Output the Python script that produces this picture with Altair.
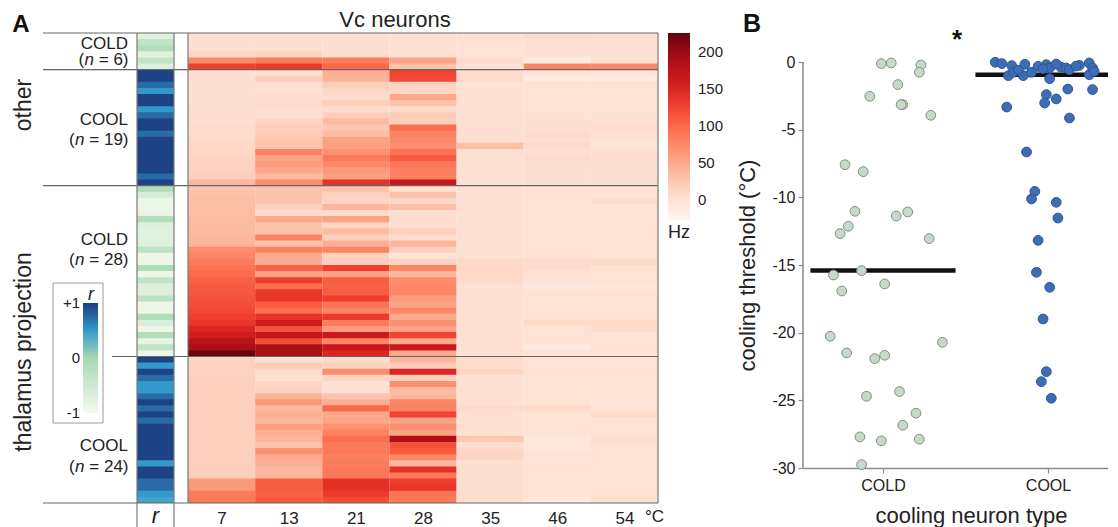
import json
import altair as alt
import pandas as pd

# ---------------- data ----------------
temps = [7, 13, 21, 28, 35, 46, 54]
group_types = ["COLD", "COOL", "COLD", "COOL"]
group_sizes = [6, 19, 28, 24]
regions = ["other", "thalamus projection"]
r_legend_values = [1, 0, -1]

# correlation r of each neuron (rows, top to bottom)
r_other_cold = [-0.75, -0.35, -0.15, -0.75, -0.35, -0.7]
r_other_cool = [0.97, 0.97, 0.75, 0.5, 0.97, 0.97, 0.5, 0.75, 0.97, 0.97, 0.75,
                0.97, 0.97, 0.97, 0.97, 0.97, 0.97, 0.75, 0.97]
r_thal_cold = [-0.1, -0.6, -0.9, -0.9, -0.85, -0.15, -0.7, -0.75, -0.75, -0.7,
               -0.3, -0.9, -0.9, -0.1, -0.9, -0.35, -0.7, -0.7, -0.3, -0.9,
               -0.9, -0.15, -0.65, -0.9, -0.15, -0.85, -0.35, -0.9]
r_thal_cool = [0.97, 0.5, 0.97, 0.75, 0.5, 0.5, 0.75, 0.97, 0.75, 0.97, 0.75, 0.97,
               0.97, 0.97, 0.97, 0.97, 0.97, 0.5, 0.97, 0.97, 0.75, 0.75, 0.5, 0.42]

# firing rate (Hz), one list per temperature column, rows top to bottom
hz_other_cold = [
    [4, 4, 5, 12, 75, 128],
    [4, 4, 5, 14, 85, 132],
    [4, 4, 4, 6, 85, 100],
    [3, 3, 3, 3, 55, 30],
    [2, 2, 2, 2, 8, 4],
    [8, 3, 3, 3, -14, 78],
    [7, 3, 3, 3, 2, 76],
]
hz_other_cool = [
    [4, 4, 4, 4, 4, 4, 6, 6, 6, 8, 8, 10, 12, 12, 14, 16, 16, 20, 38],
    [4, 20, 6, 4, 8, 8, 6, 6, 14, 20, 22, 26, 28, 80, 55, 58, 50, 36, 72],
    [45, 42, 20, 12, 8, 20, 8, 20, 36, 26, 33, 55, 58, 68, 85, 75, 62, 58, 138],
    [125, 122, 16, 12, 50, 28, 8, 22, 18, 95, 78, 75, 70, 92, 110, 88, 82, 82, 165],
    [8, 8, 3, 3, 3, 3, 3, 3, 3, 5, 5, 5, 32, 5, 3, 3, 3, 3, 3],
    [-2, -10, 2, 2, 2, 2, 2, 2, 4, 5, 8, 4, 8, 5, 8, 4, 4, 4, 4],
    [0, -10, 2, 2, 2, 2, 2, 2, 4, 8, 5, 0, -3, 4, 5, 4, 4, 4, 4],
]
hz_thal_cold = [
    [28, 30, 32, 33, 34, 35, 36, 37, 38, 40, 72, 78, 85, 92, 98, 105, 110, 112,
     115, 118, 122, 128, 135, 150, 158, 178, 190, 225],
    [28, 28, 28, 18, 8, 50, 28, 30, 80, 30, 82, 50, 45, 105, 55, 130, 95, 135,
     135, 110, 95, 138, 160, 115, 168, 118, 190, 190],
    [30, 16, 14, 40, 10, 55, 14, 35, 18, 45, 78, 16, 18, 128, 55, 108, 105, 108,
     130, 92, 78, 132, 85, 60, 162, 78, 165, 150],
    [5, 30, 14, 32, 6, 8, 6, 18, 8, 40, 18, 2, 16, 78, 38, 72, 75, 78,
     60, 55, 75, 50, 70, 55, 125, 50, 165, 48],
    [3, 3, 3, 3, 3, 3, 3, 3, 3, 3, 3, 3, 10, 12, 10, 10, 3, 3,
     3, 3, 3, 3, 3, 3, 3, 3, 3, 3],
    [2, 2, 2, 2, 2, 2, 2, 2, 2, 2, 2, 2, 8, 8, 2, 2, -8, 2,
     2, 2, 2, 2, 10, 2, 2, 2, -10, 2],
    [2, 2, 8, 2, 2, 2, 2, 2, 2, 2, 2, 2, 10, 2, 2, 2, -5, 2,
     2, 2, 2, 2, 10, 10, 2, 2, 2, 2],
]
hz_thal_cool = [
    [16, 16, 16, 18, 18, 18, 18, 18, 18, 18, 18, 18, 18, 18, 18, 18, 18, 18, 18, 18, 62, 62, 85, 88],
    [4, 22, 8, 4, 14, 16, 42, 62, 38, 45, 38, 58, 45, 40, 28, 68, 50, 45, 38, 40, 108, 108, 105, 110],
    [10, 16, 72, 14, 3, 3, 28, 45, 100, 50, 52, 68, 80, 95, 88, 88, 82, 85, 88, 88, 140, 140, 132, 120],
    [40, 22, 150, 20, 70, 35, 40, 78, 80, 125, 55, 70, 55, 185, 115, 110, 75, 38, 140, 88, 130, 135, 90, 88],
    [8, 8, 14, 3, 3, 3, 3, 3, 8, 3, 3, 3, 3, 25, 6, 12, 14, 4, 4, 4, 4, 4, 6, 6],
    [2, 2, 2, 2, 2, 2, 2, 2, 10, 2, 2, 2, 2, -8, -5, -5, 2, 2, 2, 2, 2, 2, 2, -10],
    [2, 2, 2, 2, 2, 2, 2, 2, 2, 10, 2, 2, 2, 6, 2, 2, 2, 2, 2, 2, 2, 2, 2, 2],
]

# panel B: cooling thresholds (deg C) and strip-plot jitter (fraction of category spacing)
cooling_types = ["COLD", "COOL"]
cold_threshold = [-0.12, -0.07, -0.22, -0.76, -1.67, -2.54, -3.15, -3.15, -3.94, -7.59,
                  -8.1, -11.03, -11.08, -11.38, -12.14, -12.68, -13.05, -15.74, -15.42,
                  -16.92, -16.4, -20.27, -21.5, -21.92, -21.67, -20.71, -24.7, -24.35,
                  -25.95, -26.84, -27.7, -27.99, -27.87, -29.75]
cold_jitter = [-0.01, 0.05, 0.23, 0.22, 0.09, -0.08, 0.12, 0.11, 0.29, -0.23, -0.12, -0.17,
               0.15, 0.08, -0.21, -0.26, 0.28, -0.30, -0.13, -0.25, 0.01, -0.32, -0.22,
               -0.05, 0.01, 0.36, -0.10, 0.10, 0.20, 0.12, -0.14, -0.01, 0.22, -0.13]
cool_threshold = [-0.02, -0.12, -0.27, -0.17, -0.32, -0.2, -0.44, -0.39, -0.44, -0.57,
                  -0.25, -0.07, -0.44, -1.01, -0.76, -1.01, -0.76, -1.23, -0.94, -0.69,
                  -2.0, -2.04, -2.41, -3.03, -2.73, -3.33, -4.14, -6.65, -9.56, -10.12,
                  -10.37, -11.53, -13.18, -15.54, -16.65, -18.99, -22.88, -23.62, -24.85,
                  -0.5, -0.3, -0.6, -0.15]
cool_jitter = [-0.32, -0.28, -0.22, -0.14, -0.06, -0.01, 0.01, 0.08, 0.11, 0.13, 0.19, 0.25,
               0.27, -0.24, -0.21, -0.15, -0.10, 0.01, 0.25, 0.28, 0.12, 0.27, -0.01, -0.02,
               0.05, -0.25, 0.13, -0.13, -0.08, -0.10, 0.05, 0.06, -0.06, -0.07, 0.01, -0.03,
               -0.01, -0.04, 0.02, -0.03, 0.17, -0.18, 0.05]
type_means = [-15.4, -0.95]

# colour ramps
hz_range = ["#fff5f0", "#fee0d2", "#fcbba1", "#fc9272", "#fb6a4a",
            "#ef3b2c", "#cb181d", "#a50f15", "#67000d"]
hz_limits = [-27, 225]
r_stops = [-1, 0, 0.5, 1]
r_range = ["#f4f9ef", "#a6d9b3", "#3399cc", "#1c3c80"]

# ---------------- layout (page pixels of the reference) ----------------
A_LEFT, A_TOP, HEAT_LEFT = 12, 33, 188
A_H = 470
UNIT = A_H / 7.0          # px per temperature column
X_MIN = -(HEAT_LEFT - A_LEFT) / UNIT
A_W = round((7 - X_MIN) * UNIT)
N_ROWS = sum(group_sizes)
ROW = A_H / N_ROWS
OVERLAP = 0.12            # rows overlap slightly to avoid anti-alias seams


def ax(px):
    return (px - HEAT_LEFT) / UNIT


def ay(py):
    return (py - A_TOP) / ROW


B_LEFT, B_RIGHT, B_BOTTOM = 803, 1108, 468
B_W = B_RIGHT - B_LEFT
B_H = B_BOTTOM - A_TOP
CAT = 165.0
COLD_X = 883
ZERO_Y = 62
PPU = (B_BOTTOM - ZERO_Y) / 30.0


def bx(px):
    return (px - COLD_X) / CAT


def by(py):
    return (ZERO_Y - py) / PPU


FONT = "Liberation Sans"
TXT = "#222222"
LINE = "#666666"
GREY = "#8a8a8a"

# r legend gradient placement (page px)
RG_X, RG_TOP, RG_LEN = 83, 303, 110

# ---------------- panel A ----------------
heat_rows, r_rows = [], []
row = 0
for cols, rvals in zip([hz_other_cold, hz_other_cool, hz_thal_cold, hz_thal_cool],
                       [r_other_cold, r_other_cool, r_thal_cold, r_thal_cool]):
    for i, rv in enumerate(rvals):
        y1 = row + 1 + (OVERLAP if row < N_ROWS - 1 else 0)
        for c, col in enumerate(cols):
            heat_rows.append({"x0": c, "x1": c + 1, "y0": row, "y1": y1,
                              "hz": col[i], "temp": temps[c]})
        r_rows.append({"x0": ax(137), "x1": ax(174), "y0": row, "y1": y1, "r": rv})
        row += 1
heat_df = pd.DataFrame(heat_rows)
r_df = pd.DataFrame(r_rows)

xA = alt.Scale(domain=[X_MIN, 7], nice=False, zero=False)
yA = alt.Scale(domain=[0, N_ROWS], reverse=True, nice=False, zero=False)
axA_x = alt.Axis(values=[i + 0.5 for i in range(len(temps))],
                 labelExpr=f"{temps}[floor(datum.value)]",
                 domain=False, ticks=False, grid=False, title=None,
                 labelFontSize=17, labelPadding=7, labelColor=TXT, labelFlush=False)


def XA(f):
    return alt.X(f, scale=xA, axis=axA_x)


def YA(f):
    return alt.Y(f, scale=yA, axis=None)


n_hz = len(hz_range)
hz_domain = [hz_limits[0] + k * (hz_limits[1] - hz_limits[0]) / (n_hz - 1) for k in range(n_hz)]
hz_scale = alt.Scale(domain=hz_domain, range=hz_range, interpolate="rgb")
r_scale = alt.Scale(domain=r_stops, range=r_range, interpolate="rgb")

heat = alt.Chart(heat_df).mark_rect().encode(
    x=XA("x0:Q"), x2="x1:Q", y=YA("y0:Q"), y2="y1:Q",
    color=alt.Color("hz:Q", scale=hz_scale,
                    legend=alt.Legend(title="Hz", orient="right", offset=10,
                                      direction="vertical", gradientLength=187,
                                      gradientThickness=22, values=[0, 50, 100, 150, 200],
                                      labelFontSize=15, labelOffset=8, labelColor=TXT,
                                      titleOrient="bottom", titleFontSize=18,
                                      titleFontWeight="normal", titleColor=TXT,
                                      titlePadding=4, gradientStrokeWidth=0)),
)

# legend box (annotation)
box_df = pd.DataFrame([{"x0": ax(53), "x1": ax(103), "y0": ay(283), "y1": ay(423)}])
box = alt.Chart(box_df).mark_rect(fill="white", stroke="#9a9a9a", strokeWidth=1).encode(
    x=XA("x0:Q"), x2="x1:Q", y=YA("y0:Q"), y2="y1:Q")

rcol = alt.Chart(r_df).mark_rect().encode(
    x=XA("x0:Q"), x2="x1:Q", y=YA("y0:Q"), y2="y1:Q",
    color=alt.Color("r:Q", scale=r_scale,
                    legend=alt.Legend(title=None, orient="none",
                                      legendX=RG_X - A_LEFT, legendY=RG_TOP - A_TOP,
                                      direction="vertical", gradientLength=RG_LEN,
                                      gradientThickness=15, values=[-1, 0, 1],
                                      labelOpacity=0, labelFontSize=10, padding=0,
                                      gradientStrokeWidth=0)),
)

# r legend labels drawn left of the gradient, title above
rl_df = pd.DataFrame([{"x": ax(RG_X - 3), "y": ay(RG_TOP + (1 - v) / 2 * RG_LEN),
                       "text": "+1" if v > 0 else str(v)} for v in r_legend_values])
r_labels = alt.Chart(rl_df).mark_text(align="right", baseline="middle", fontSize=15,
                                      color=TXT).encode(
    x=XA("x:Q"), y=YA("y:Q"), text="text:N")
rt_df = pd.DataFrame([{"x": ax(RG_X + 8), "y": ay(RG_TOP - 3), "text": "r"}])
r_title = alt.Chart(rt_df).mark_text(align="center", baseline="alphabetic", fontSize=18,
                                     fontStyle="italic", color=TXT).encode(
    x=XA("x:Q"), y=YA("y:Q"), text="text:N")

# separator lines between groups
bounds_rows = [0]
for n in group_sizes:
    bounds_rows.append(bounds_rows[-1] + n)
sep_df = pd.DataFrame([{"x0": ax(112) if b == bounds_rows[3] else ax(43), "x1": 7, "y": b}
                       for b in bounds_rows])
seps = alt.Chart(sep_df).mark_rule(color=LINE, strokeWidth=1.2).encode(
    x=XA("x0:Q"), x2="x1:Q", y=YA("y:Q"))

vb_df = pd.DataFrame([
    {"x": 0, "y0": 0, "y1": N_ROWS},
    {"x": 7, "y0": 0, "y1": N_ROWS},
    {"x": ax(137), "y0": 0, "y1": ay(527)},
    {"x": ax(174), "y0": 0, "y1": ay(527)},
])
vbs = alt.Chart(vb_df).mark_rule(color="#7a7a7a", strokeWidth=1.2).encode(
    x=XA("x:Q"), y=YA("y0:Q"), y2="y1:Q")

# group labels
label_centres = [(43.5, 60), (120, 140), (240, 260), (446, 467)]
FS = 17
W_PAREN, W_N, W_SP = 0.333 * FS, 0.556 * FS, 0.278 * FS
RIGHT = 128
txt_rows, ital_rows, name_rows = [], [], []
for name, n, (c1, c2) in zip(group_types, group_sizes, label_centres):
    tail = f"= {n})"
    tail_w = (0.584 + 0.278 + 0.556 * len(str(n)) + 0.333) * FS
    total = W_PAREN + W_N + W_SP + tail_w
    name_rows.append({"x": ax(RIGHT), "y": ay(c1), "text": name})
    txt_rows.append({"x": ax(RIGHT - total), "y": ay(c2), "text": "("})
    ital_rows.append({"x": ax(RIGHT - total + W_PAREN + 0.5), "y": ay(c2), "text": "n"})
    txt_rows.append({"x": ax(RIGHT - total + W_PAREN + W_N + W_SP + 0.5), "y": ay(c2), "text": tail})

names_r = alt.Chart(pd.DataFrame(name_rows)).mark_text(
    align="right", baseline="middle", fontSize=FS, color=TXT).encode(
    x=XA("x:Q"), y=YA("y:Q"), text="text:N")
names_l = alt.Chart(pd.DataFrame(txt_rows)).mark_text(
    align="left", baseline="middle", fontSize=FS, color=TXT).encode(
    x=XA("x:Q"), y=YA("y:Q"), text="text:N")
names_i = alt.Chart(pd.DataFrame(ital_rows)).mark_text(
    align="left", baseline="middle", fontSize=FS, fontStyle="italic", color=TXT).encode(
    x=XA("x:Q"), y=YA("y:Q"), text="text:N")

region_df = pd.DataFrame([{"x": ax(24), "y": ay(105), "text": regions[0]},
                          {"x": ax(24), "y": ay(352), "text": regions[1]}])
region_txt = alt.Chart(region_df).mark_text(
    angle=270, align="center", baseline="middle", fontSize=23, color=TXT).encode(
    x=XA("x:Q"), y=YA("y:Q"), text="text:N")

a_df = pd.DataFrame([{"x": ax(21), "y": ay(25), "text": "A"}])
a_txt = alt.Chart(a_df).mark_text(align="center", baseline="middle", fontSize=24,
                                  fontWeight="bold", color="#111").encode(
    x=XA("x:Q"), y=YA("y:Q"), text="text:N")

title_df = pd.DataFrame([{"x": ax(395), "y": ay(27), "text": "Vc neurons"}])
title_txt = alt.Chart(title_df).mark_text(align="center", baseline="alphabetic",
                                          fontSize=22, color=TXT).encode(
    x=XA("x:Q"), y=YA("y:Q"), text="text:N")

unit_df = pd.DataFrame([{"x": ax(645), "y": ay(509), "text": "°C"}])
unit_txt = alt.Chart(unit_df).mark_text(align="left", baseline="top", fontSize=17,
                                        color=TXT).encode(
    x=XA("x:Q"), y=YA("y:Q"), text="text:N")

rlab_df = pd.DataFrame([{"x": ax(155.5), "y": ay(506), "text": "r"}])
rlab_txt = alt.Chart(rlab_df).mark_text(align="center", baseline="top", fontSize=22,
                                        fontStyle="italic", color=TXT).encode(
    x=XA("x:Q"), y=YA("y:Q"), text="text:N")

panelA = alt.layer(
    heat, box, rcol, r_labels, r_title, seps, vbs, names_r, names_l, names_i,
    region_txt, a_txt, title_txt, unit_txt, rlab_txt
).resolve_scale(color="independent").properties(width=A_W, height=A_H)

# ---------------- panel B ----------------
xB = alt.Scale(domain=[bx(B_LEFT), bx(B_RIGHT)], nice=False, zero=False)
yB = alt.Scale(domain=[-30, by(A_TOP)], nice=False, zero=False)
axB_x = alt.Axis(values=[0, 1], labelExpr=f"{json.dumps(cooling_types)}[datum.value]",
                 grid=False, domainColor=GREY, domainWidth=1.5, tickColor=GREY,
                 tickSize=5, tickWidth=1.2, labelFontSize=16, labelPadding=4, labelColor=TXT,
                 title="cooling neuron type", titleFontSize=22, titleFontWeight="normal",
                 titleColor=TXT, titleX=168, titleY=37, titleBaseline="top",
                 titleAlign="center")
axB_y = alt.Axis(values=list(range(0, -31, -5)), labelExpr="toString(datum.value)",
                 domain=False, grid=False, tickColor=GREY, tickSize=5, tickWidth=1.2,
                 labelFontSize=16, labelPadding=3, labelColor=TXT,
                 title="cooling threshold (°C)", titleFontSize=22, titleFontWeight="normal",
                 titleColor=TXT, titleX=-56, titleY=232, titleBaseline="middle",
                 titleAlign="center")


def XB(f):
    return alt.X(f, scale=xB, axis=axB_x)


def YB(f):
    return alt.Y(f, scale=yB, axis=axB_y)


cold_df = pd.DataFrame({"x": [0 + j for j in cold_jitter], "thr": cold_threshold})
cool_df = pd.DataFrame({"x": [1 + j for j in cool_jitter], "thr": cool_threshold})
mean_df = pd.DataFrame({"x0": [i - 0.44 for i in range(2)],
                        "x1": [i + 0.44 for i in range(2)], "m": type_means})

cold_pts = alt.Chart(cold_df).mark_circle(size=95, fill="#c9d9c9", stroke="#7f8f80",
                                          strokeWidth=1, opacity=1).encode(
    x=XB("x:Q"), y=YB("thr:Q"))
cool_pts = alt.Chart(cool_df).mark_circle(size=95, fill="#3f6db4", stroke="#2b5597",
                                          strokeWidth=1, opacity=1).encode(
    x=XB("x:Q"), y=YB("thr:Q"))

means = alt.Chart(mean_df).mark_rule(color="#111111", strokeWidth=4.5, clip=True).encode(
    x=XB("x0:Q"), x2="x1:Q", y=YB("m:Q"))

yline_df = pd.DataFrame([{"x": bx(B_LEFT), "y0": -30, "y1": 0}])
yline = alt.Chart(yline_df).mark_rule(color=GREY, strokeWidth=1.5).encode(
    x=XB("x:Q"), y=YB("y0:Q"), y2="y1:Q")

b_df = pd.DataFrame([{"x": bx(752), "y": by(24), "text": "B"}])
b_txt = alt.Chart(b_df).mark_text(align="center", baseline="middle", fontSize=25,
                                  fontWeight="bold", color="#111").encode(
    x=XB("x:Q"), y=YB("y:Q"), text="text:N")
star_df = pd.DataFrame([{"x": bx(957), "y": by(48), "text": "*"}])
star_txt = alt.Chart(star_df).mark_text(align="center", baseline="alphabetic", fontSize=26,
                                        fontWeight="bold", color="#111").encode(
    x=XB("x:Q"), y=YB("y:Q"), text="text:N")

panelB = alt.layer(yline, means, cold_pts, cool_pts, b_txt, star_txt).properties(
    width=B_W, height=B_H)

chart = alt.HConcatChart(
    hconcat=[panelA, panelB], spacing=B_LEFT - (A_LEFT + A_W), bounds="flush",
    padding={"left": 4, "top": 1, "right": 0, "bottom": 0},
).configure(font=FONT).configure_view(stroke=None)

chart.save("out.html", embed_options={"renderer": "svg", "actions": False})
